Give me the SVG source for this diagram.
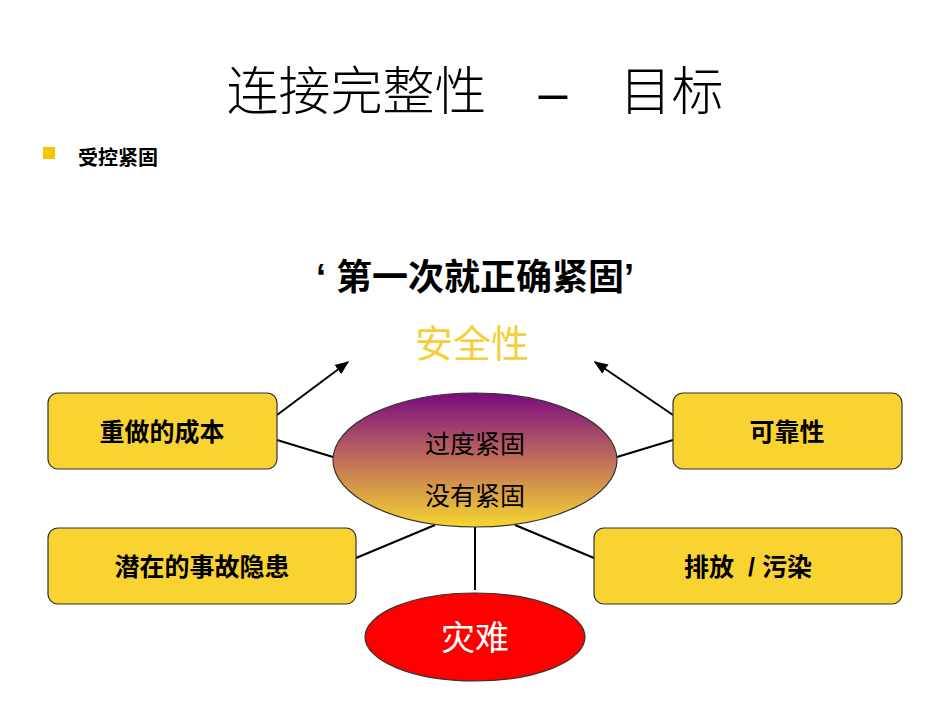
<svg xmlns="http://www.w3.org/2000/svg" width="950" height="713" viewBox="0 0 950 713">
<style>
.t{font-family:"Liberation Sans","Noto Sans CJK SC",sans-serif;}
.box{fill:#F9D331;stroke:#333;stroke-width:1.2}
.bt{font-family:"Liberation Sans","Noto Sans CJK SC",sans-serif;font-size:25px;font-weight:bold;fill:#000;text-anchor:middle}
.c{stroke:#000;stroke-width:2;fill:none}
</style>
<defs>
<linearGradient id="g" x1="0" y1="0" x2="0" y2="1">
<stop offset="0" stop-color="#7A0A80"/>
<stop offset="0.5" stop-color="#C0705A"/>
<stop offset="1" stop-color="#F5D530"/>
</linearGradient>
<marker id="a" viewBox="0 0 10 10" refX="9" refY="5" markerWidth="7" markerHeight="7" orient="auto"><path d="M0,1 L10,5 L0,9 z" fill="#000"/></marker>
</defs>
<rect width="950" height="713" fill="#fff"/>
<text x="475" y="110" class="t" font-size="52" font-weight="300" text-anchor="middle" fill="#000">连接完整性　–　目标</text>
<rect x="43" y="147" width="12" height="12" fill="#F7C600"/>
<text x="78" y="165" class="t" font-size="20" font-weight="bold">受控紧固</text>
<text x="475" y="290" class="t" font-size="36" font-weight="bold" text-anchor="middle">‘ 第一次就正确紧固’</text>
<text x="472" y="357" class="t" font-size="38" fill="#F5CF3A" text-anchor="middle">安全性</text>
<g id="connectors">
<line class="c" x1="277" y1="415" x2="348" y2="362" marker-end="url(#a)"/>
<line class="c" x1="673" y1="415" x2="595" y2="362" marker-end="url(#a)"/>
<line class="c" x1="277" y1="440" x2="333" y2="457"/>
<line class="c" x1="617" y1="457" x2="673" y2="440"/>
<line class="c" x1="356" y1="558" x2="435" y2="525"/>
<line class="c" x1="515" y1="525" x2="594" y2="558"/>
<line class="c" x1="475" y1="527" x2="475" y2="590"/>
</g>
<g id="center"><ellipse cx="475" cy="460" rx="142" ry="67" fill="url(#g)" stroke="#333" stroke-width="1.2"/>
<text x="475" y="453" class="t" font-size="25" text-anchor="middle">过度紧固</text>
<text x="475" y="505" class="t" font-size="25" text-anchor="middle">没有紧固</text></g>
<g id="n1"><rect class="box" x="48" y="393" width="229" height="76" rx="10"/><text class="bt" x="162" y="441">重做的成本</text></g>
<g id="n2"><rect class="box" x="673" y="393" width="229" height="76" rx="10"/><text class="bt" x="787" y="441">可靠性</text></g>
<g id="n3"><rect class="box" x="48" y="528" width="308" height="76" rx="10"/><text class="bt" x="202" y="576">潜在的事故隐患</text></g>
<g id="n4"><rect class="box" x="594" y="528" width="308" height="76" rx="10"/><text class="bt" x="748" y="576" xml:space="preserve">排放  / 污染</text></g>
<g id="disaster"><ellipse cx="475" cy="637" rx="110" ry="44" fill="#FF0000" stroke="#333" stroke-width="1.2"/>
<text x="475" y="650" class="t" font-size="34" fill="#fff" text-anchor="middle">灾难</text></g>
</svg>
